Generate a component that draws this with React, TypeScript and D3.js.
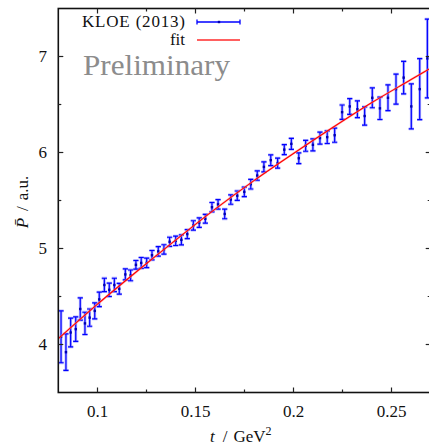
import React from "react";
import * as d3 from "d3";

// KLOE (2013) data points: t (GeV^2), P̄ (a.u.), symmetric error
const dataT = [
  0.0814, 0.0839, 0.0863, 0.0889, 0.0912, 0.0936, 0.096, 0.0986, 0.1009, 0.1035,
  0.106, 0.1086, 0.1111, 0.1142, 0.1169, 0.1196, 0.1223, 0.1251, 0.1278, 0.131,
  0.1339, 0.1368, 0.1399, 0.1428, 0.1458, 0.1489, 0.1519, 0.155, 0.1584, 0.1615,
  0.1649, 0.168, 0.1713, 0.1749, 0.1782, 0.1815, 0.1849, 0.1884, 0.1919, 0.1953,
  0.1989, 0.2027, 0.2062, 0.2099, 0.2135, 0.2172, 0.221, 0.2248, 0.2287, 0.2326,
  0.2363, 0.2402, 0.2441, 0.2482, 0.2523, 0.2562, 0.2601, 0.2644, 0.2683,
];
const dataP = [
  4.08, 3.92, 4.125, 4.16, 4.37, 4.22, 4.28, 4.35, 4.47, 4.62,
  4.57, 4.62, 4.58, 4.73, 4.72, 4.83, 4.85, 4.85, 4.93, 4.97,
  4.99, 5.07, 5.08, 5.09, 5.15, 5.24, 5.27, 5.31, 5.43, 5.46,
  5.36, 5.51, 5.55, 5.59, 5.67, 5.76, 5.85, 5.92, 5.89, 6.03,
  6.09, 5.94, 6.07, 6.08, 6.15, 6.16, 6.18, 6.42, 6.48, 6.45,
  6.38, 6.57, 6.46, 6.57, 6.66, 6.78, 6.48, 6.66, 6.98,
];
const dataErr = [
  0.27, 0.19, 0.15, 0.127, 0.116, 0.116, 0.09, 0.083, 0.075, 0.07,
  0.07, 0.07, 0.056, 0.057, 0.056, 0.045, 0.056, 0.049, 0.049, 0.05,
  0.049, 0.047, 0.049, 0.052, 0.047, 0.049, 0.049, 0.045, 0.049, 0.049,
  0.05, 0.049, 0.049, 0.049, 0.05, 0.049, 0.052, 0.056, 0.052, 0.052,
  0.057, 0.056, 0.057, 0.0625, 0.0625, 0.066, 0.073, 0.075, 0.082, 0.087,
  0.095, 0.104, 0.116, 0.134, 0.156, 0.17, 0.234, 0.318, 0.41,
];

// fit curve
const fitT = [0.08, 0.1, 0.12, 0.14, 0.16, 0.18, 0.2, 0.22, 0.24, 0.26, 0.27];
const fitP = [4.06, 4.42, 4.76, 5.09, 5.41, 5.71, 5.99, 6.26, 6.52, 6.76, 6.88];

const xMajor = [0.1, 0.15, 0.2, 0.25];
const xMinor = [0.125, 0.175, 0.225];
const yMajor = [4, 5, 6, 7];
const yMinor = [4.5, 5.5, 6.5];

const W = 429;
const H = 448;
const L = 58.3;
const R = 430.7;
const T = 8.5;
const B = 392.5;

const FONT = "'Liberation Serif', 'DejaVu Serif', serif";

export default function App() {
  const x = d3.scaleLinear().domain([0.08, 0.27]).range([L, R]);
  const y = d3.scaleLinear().domain([3.5, 7.5]).range([B, T]);

  const fitLine = d3
    .line<number>()
    .x((_, i) => x(fitT[i]))
    .y((_, i) => y(fitP[i]))
    .curve(d3.curveMonotoneX)(fitT);

  const major = 5;
  const minor = 3;
  const cap = 2.6;

  return (
    <svg
      width={W}
      height={H}
      style={{ position: "absolute", left: 0, top: 0, background: "#fff" }}
      fontFamily={FONT}
    >
      <defs>
        <clipPath id="plot">
          <rect x={L} y={T} width={R - L} height={B - T} />
        </clipPath>
      </defs>

      {/* data error bars */}
      <g clipPath="url(#plot)">
        {dataT.map((t, i) => {
          const cx = x(t);
          const y1 = y(dataP[i] + dataErr[i]);
          const y0 = y(dataP[i] - dataErr[i]);
          const cy = y(dataP[i]);
          const path = `M${cx},${y1}V${y0}M${cx - cap},${y1}H${cx + cap}M${cx - cap},${y0}H${cx + cap}`;
          return (
            <g key={i}>
              <path d={path} stroke="#8080ff" strokeWidth={2.8} fill="none" opacity={0.6} />
              <path d={path} stroke="#0000ff" strokeWidth={1.2} fill="none" />
              <rect x={cx - 1.2} y={cy - 1.2} width={2.4} height={2.4} fill="#0000b0" />
            </g>
          );
        })}
        <path d={fitLine || ""} stroke="#ff9090" strokeWidth={2.2} fill="none" opacity={0.6} />
        <path d={fitLine || ""} stroke="#ff0000" strokeWidth={1.1} fill="none" />
      </g>

      {/* frame */}
      <rect x={L} y={T} width={R - L} height={B - T} fill="none" stroke="#111" strokeWidth={1.6} />

      {/* ticks */}
      {xMajor.concat(xMinor).map((t) => {
        const len = xMajor.includes(t) ? major : minor;
        return (
          <g key={"xt" + t} stroke="#222" strokeWidth={1.2}>
            <line x1={x(t)} x2={x(t)} y1={B} y2={B - len} />
            <line x1={x(t)} x2={x(t)} y1={T} y2={T + len} />
          </g>
        );
      })}
      {yMajor.concat(yMinor).map((v) => {
        const len = yMajor.includes(v) ? major : minor;
        return (
          <g key={"yt" + v} stroke="#222" strokeWidth={1.2}>
            <line x1={L} x2={L + len} y1={y(v)} y2={y(v)} />
            <line x1={R} x2={R - len} y1={y(v)} y2={y(v)} />
          </g>
        );
      })}

      {/* tick labels */}
      {xMajor.map((t) => (
        <text key={"xl" + t} x={x(t)} y={416.5} textAnchor="middle" fontSize={17} fill="#111">
          {String(t)}
        </text>
      ))}
      {yMajor.map((v) => (
        <text key={"yl" + v} x={47} y={y(v) + 5.6} textAnchor="end" fontSize={17} fill="#111">
          {String(v)}
        </text>
      ))}

      {/* axis titles */}
      <text x={210} y={441.5} fontSize={17} fill="#111">
        <tspan fontStyle="italic">t</tspan>
        <tspan dx={8}>/</tspan>
        <tspan dx={6}>GeV</tspan>
        <tspan fontSize={12} dy={-7}>2</tspan>
      </text>
      <text transform="translate(28,202) rotate(-90)" textAnchor="middle" fontSize={17} fill="#111">
        <tspan fontStyle="italic">{"P\u0304"}</tspan>
        <tspan dx={7}>/</tspan>
        <tspan dx={6}>a.u.</tspan>
      </text>

      {/* legend */}
      <text x={185} y={27} textAnchor="end" fontSize={17} fill="#111" textLength={103} lengthAdjust="spacing">
        KLOE (2013)
      </text>
      <g>
        <path d="M197,22H240M197,19.5V24.5M240,19.5V24.5" stroke="#0000ff" strokeWidth={1.3} fill="none" />
        <rect x={217.8} y={20.8} width={2.4} height={2.4} fill="#0000b0" />
      </g>
      <text x={185} y={45} textAnchor="end" fontSize={17} fill="#111">
        fit
      </text>
      <line x1={197} x2={240} y1={40} y2={40} stroke="#ff6060" strokeWidth={1.8} />

      <text x={83} y={75} fontSize={30} fill="#8c8c8c" textLength={147} lengthAdjust="spacingAndGlyphs">
        Preliminary
      </text>
    </svg>
  );
}
